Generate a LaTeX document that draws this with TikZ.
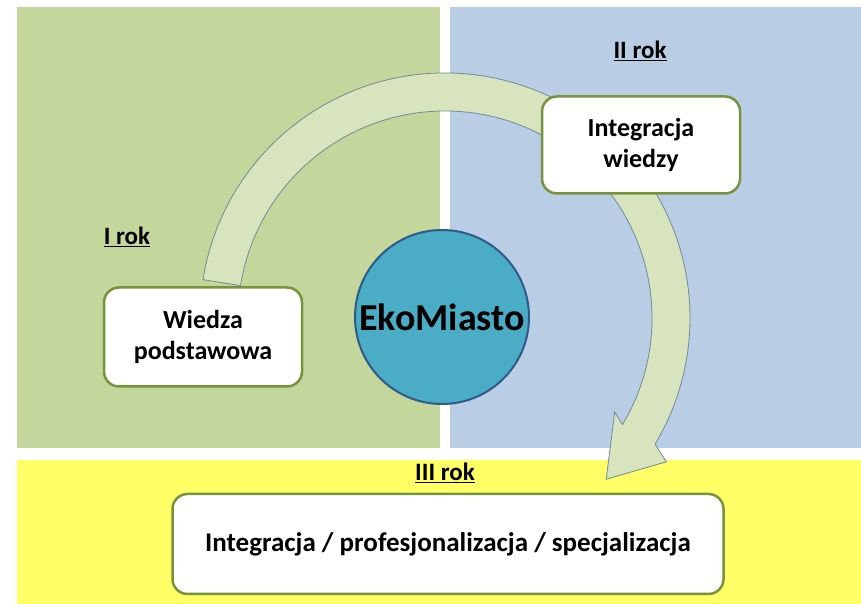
\documentclass[tikz,border=0pt]{standalone}
\usepackage{fontspec}
\setmainfont{Carlito}
\usetikzlibrary{positioning}
\definecolor{panelgreen}{HTML}{C3D69B}
\definecolor{panelblue}{HTML}{B9CDE5}
\definecolor{panelyellow}{HTML}{FFFF66}
\definecolor{arrowfill}{HTML}{D7E4BD}
\definecolor{arrowline}{HTML}{6F8C98}
\definecolor{boxline}{HTML}{77933C}
\definecolor{hubfill}{HTML}{4BACC6}
\definecolor{hubline}{HTML}{2F5A8A}
\tikzset{
  panel/.style={draw=none},
  yearbox/.style={draw=boxline,line width=2.5pt,fill=white,rounded corners=15pt,align=center,
    font=\bfseries\fontsize{26}{31}\selectfont},
  yearlabel/.style={font=\bfseries\fontsize{25}{30}\selectfont,inner sep=0pt},
  hub/.style={circle,draw=hubline,line width=2pt,fill=hubfill,minimum size=174pt,inner sep=0pt,
    font=\bfseries\fontsize{38}{40}\selectfont}
}

\begin{document}
\begin{tikzpicture}[x=1pt,y=1pt]
  \useasboundingbox (0,0) rectangle (861,604);
  % year panels
  \fill[panelgreen] (17,156) rectangle (440,597);
  \fill[panelblue] (450,156) rectangle (861,597);
  \fill[panelyellow] (17,0) rectangle (861,144);
  % curved arrow round the hub
  \coordinate (turn) at (445,286);
  \filldraw[fill=arrowfill,draw=arrowline,line width=0.8pt]
    ([shift={(171:245)}]turn) arc[start angle=171,end angle=-31,radius=245]
    -- ([shift={(-33:264)}]turn) -- ([shift={(-45:228)}]turn)
    -- ([shift={(-29:194)}]turn) -- ([shift={(-31:207)}]turn)
    arc[start angle=-31,end angle=171,radius=207] -- cycle;
  % nodes
  \node[hub] (ekomiasto) at (442,287) {EkoMiasto};
  \node[yearbox,minimum width=198pt,minimum height=99pt] (wiedza) at (203,267) {Wiedza\\podstawowa};
  \node[yearbox,minimum width=198pt,minimum height=97pt] (integracja) at (641,459) {Integracja\\wiedzy};
  \node[yearbox,minimum width=551pt,minimum height=100pt,font=\bfseries\fontsize{27}{32}\selectfont]
    (specjalizacja) at (448,60) {Integracja / profesjonalizacja / specjalizacja};
  \node[yearlabel] (rok1) at (127,367) {\underline{I rok}};
  \node[yearlabel] (rok2) at (640,553) {\underline{II rok}};
  \node[yearlabel] (rok3) at (445,131) {\underline{III rok}};
\end{tikzpicture}
\end{document}
